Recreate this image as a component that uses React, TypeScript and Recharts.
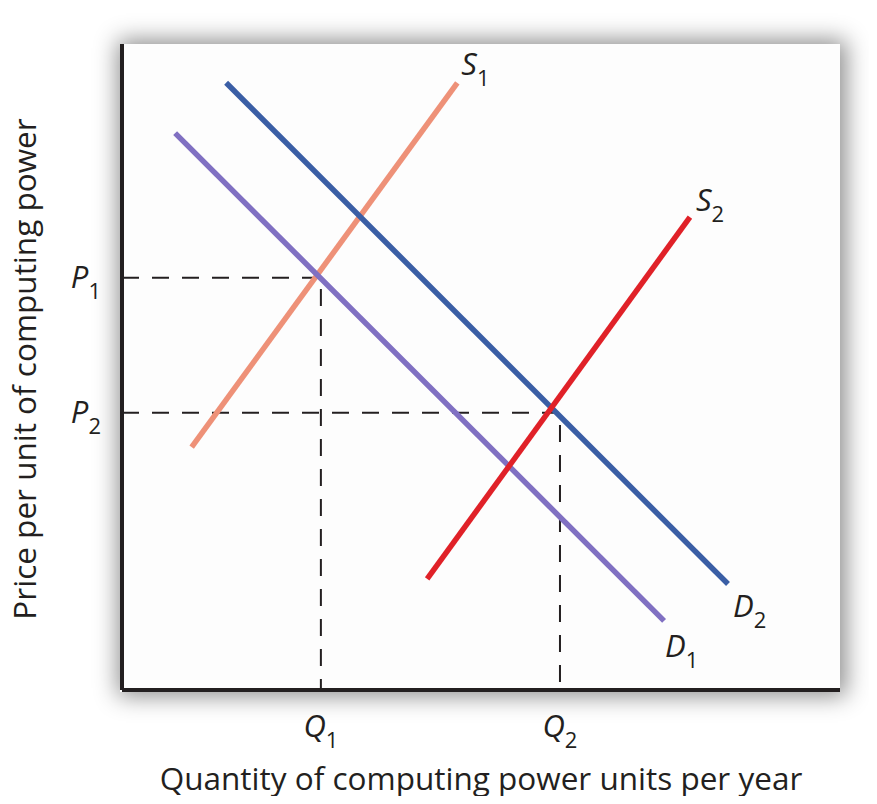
import React from "react";
import { LineChart, Line, XAxis, YAxis, LabelList, Label } from "recharts";

// supply and demand curves (quantity q, price p on a 0-100 scale)
const supply1 = [{ q: 9.7, p: 37.6 }, { q: 46.7, p: 94.0 }];
const supply2 = [{ q: 42.5, p: 17.2 }, { q: 79.1, p: 73.2 }];
const demand1 = [{ q: 7.4, p: 86.2 }, { q: 75.5, p: 10.7 }];
const demand2 = [{ q: 14.5, p: 94.0 }, { q: 84.4, p: 16.4 }];

// equilibrium points
const qTicks = [27.7, 61.0];
const pTicks = [42.9, 63.8];
const qNames = ["1", "2"];
const pNames = ["2", "1"];

const guide1 = [{ q: 0, p: pTicks[1] }, { q: qTicks[0], p: pTicks[1] }, { q: qTicks[0], p: 0 }];
const guide2 = [{ q: 0, p: pTicks[0] }, { q: qTicks[1], p: pTicks[0] }, { q: qTicks[1], p: 0 }];

const FONT = "'Open Sans', 'Noto Sans', sans-serif";
const INK = "#231f20";

function Sym({ x, y, letter, sub, anchor = "start" }: any) {
  return (
    <text x={x} y={y} textAnchor={anchor} fontFamily={FONT} fill={INK}>
      <tspan fontSize={31} fontStyle="italic">{letter}</tspan>
      <tspan fontSize={22} dy={11}>{sub}</tspan>
    </text>
  );
}

const endLabel = (letter: string, sub: string, dx: number, dy: number) => (props: any) => {
  if (props.index !== 1) return null;
  return <Sym x={props.x + dx} y={props.y + dy} letter={letter} sub={sub} />;
};

const QTick = (props: any) => {
  const i = qTicks.indexOf(props.payload.value);
  return <Sym x={props.x} y={props.y} letter="Q" sub={qNames[i]} anchor="middle" />;
};

const PTick = (props: any) => {
  const i = pTicks.indexOf(props.payload.value);
  return <Sym x={props.x} y={props.y + 10} letter="P" sub={pNames[i]} anchor="end" />;
};

export default function App() {
  return (
    <div style={{ position: "relative", width: 877, height: 804, margin: -8, background: "#fff" }}>
      <div
        style={{
          position: "absolute",
          left: 120,
          top: 44,
          width: 720,
          height: 648,
          background: "#fdfdfd",
          boxShadow: "2px 0px 22px 4px rgba(0,0,0,0.45)",
        }}
      />
      <div style={{ position: "absolute", left: 0, top: 0 }}>
        <LineChart width={877} height={804} data={supply1} margin={{ top: 44, right: 37, bottom: 0, left: 0 }}>
          <XAxis
            type="number"
            dataKey="q"
            domain={[0, 100]}
            ticks={qTicks}
            height={114}
            tickSize={0}
            tickMargin={47}
            tick={<QTick />}
            axisLine={{ stroke: INK, strokeWidth: 4 }}
            tickLine={false}
          >
            <Label
              content={(p: any) => (
                <text
                  x={p.viewBox.x + p.viewBox.width / 2}
                  y={p.viewBox.y + 100}
                  textAnchor="middle"
                  fontFamily={FONT}
                  fontSize={31.5}
                  fill={INK}
                >
                  Quantity of computing power units per year
                </text>
              )}
            />
          </XAxis>
          <YAxis
            type="number"
            dataKey="p"
            domain={[0, 100]}
            ticks={pTicks}
            width={122}
            tickSize={0}
            tickMargin={21}
            tick={<PTick />}
            axisLine={{ stroke: INK, strokeWidth: 4 }}
            tickLine={false}
          >
            <Label
              content={(p: any) => {
                const cx = 36;
                const cy = p.viewBox.y + p.viewBox.height / 2 + 2;
                return (
                  <text
                    x={cx}
                    y={cy}
                    transform={`rotate(-90, ${cx}, ${cy})`}
                    textAnchor="middle"
                    fontFamily={FONT}
                    fontSize={31.5}
                    fill={INK}
                  >
                    Price per unit of computing power
                  </text>
                );
              }}
            />
          </YAxis>

          <Line data={guide1} dataKey="p" stroke={INK} strokeWidth={2} strokeDasharray="17 13" dot={false} isAnimationActive={false} />
          <Line data={guide2} dataKey="p" stroke={INK} strokeWidth={2} strokeDasharray="17 13" dot={false} isAnimationActive={false} />

          <Line data={supply1} dataKey="p" stroke="#ee9178" strokeWidth={5.5} dot={false} isAnimationActive={false}>
            <LabelList dataKey="p" content={endLabel("S", "1", 4, -8)} />
          </Line>
          <Line data={demand1} dataKey="p" stroke="#8070c2" strokeWidth={5.5} dot={false} isAnimationActive={false}>
            <LabelList dataKey="p" content={endLabel("D", "1", 1, 36)} />
          </Line>
          <Line data={demand2} dataKey="p" stroke="#3a5ea5" strokeWidth={5.5} dot={false} isAnimationActive={false}>
            <LabelList dataKey="p" content={endLabel("D", "2", 5, 33)} />
          </Line>
          <Line data={supply2} dataKey="p" stroke="#e02128" strokeWidth={5.5} dot={false} isAnimationActive={false}>
            <LabelList dataKey="p" content={endLabel("S", "2", 6, -6)} />
          </Line>
        </LineChart>
      </div>
    </div>
  );
}
